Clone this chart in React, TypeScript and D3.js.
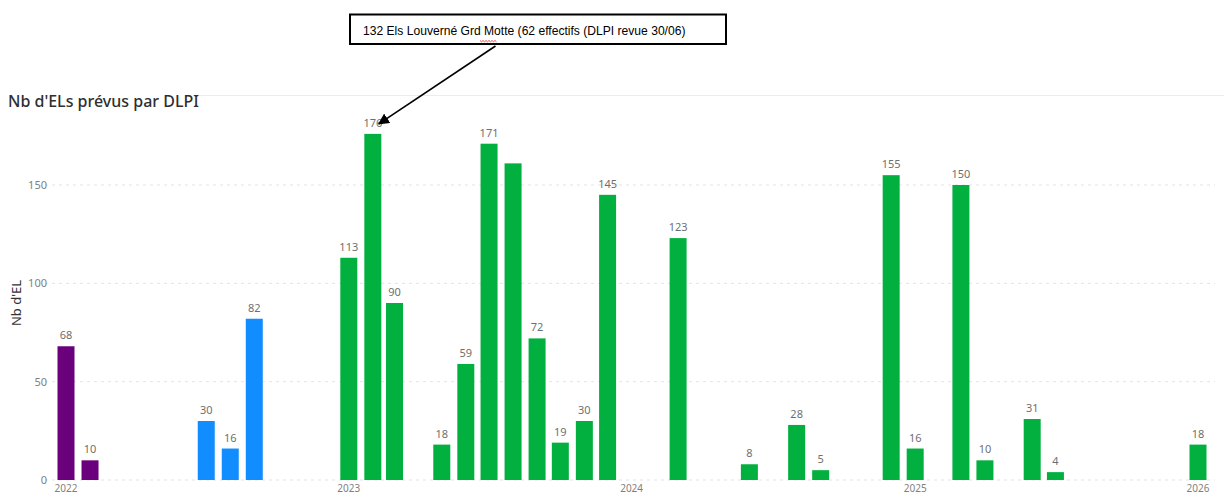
import React from "react";
import * as d3 from "d3";

const months = [
  "2022-01", "2022-02", "2022-07", "2022-08", "2022-09",
  "2023-01", "2023-02", "2023-03", "2023-05", "2023-06", "2023-07", "2023-08",
  "2023-09", "2023-10", "2023-11", "2023-12", "2024-03", "2024-06", "2024-08",
  "2024-09", "2024-12", "2025-01", "2025-03", "2025-04", "2025-06", "2025-07", "2026-01",
];
const values = [
  68, 10, 30, 16, 82,
  113, 176, 90, 18, 59, 171, 161,
  72, 19, 30, 145, 123, 8, 28,
  5, 155, 16, 150, 10, 31, 4, 18,
];
const groups = [
  "P", "P", "B", "B", "B",
  "G", "G", "G", "G", "G", "G", "G",
  "G", "G", "G", "G", "G", "G", "G",
  "G", "G", "G", "G", "G", "G", "G", "G",
];
const hiddenLabels = ["2023-08"];
const yTicks = [0, 50, 100, 150];
const groupColors: Record<string, string> = { P: "#6A007B", B: "#118DFF", G: "#02B03F" };

const title = "Nb d'ELs prévus par DLPI";
const yTitle = "Nb d'EL";
const note = "132 Els Louverné Grd Motte (62 effectifs (DLPI revue 30/06)";

const W = 1224;
const H = 495;

export default function App() {
  const parse = d3.timeParse("%Y-%m");
  const x = d3
    .scaleTime()
    .domain([new Date(2022, 0, 1), new Date(2026, 0, 1)])
    .range([66, 1198]);
  const y = d3.scaleLinear().domain([0, 150]).range([480, 185]);
  const barW = 17;
  const years = x.ticks(d3.timeYear.every(1)!);
  const fmtYear = d3.timeFormat("%Y");

  const target = x(parse("2023-02")!);
  const targetTop = y(176);

  // squiggle under "Grd"
  const sq: string[] = [];
  const sx0 = 480, sx1 = 497, sy = 40.5;
  for (let i = 0, xx = sx0; xx <= sx1; i++, xx += 1.5) {
    sq.push(`${i === 0 ? "M" : "L"}${xx},${sy + (i % 2 === 0 ? 0 : 1.3)}`);
  }

  return (
    <svg width={W} height={H} style={{ position: "absolute", left: 0, top: 0, background: "#fff" }}>
      <defs>
        <marker id="arr" viewBox="0 0 10 10" refX="9" refY="5" markerWidth="7" markerHeight="7" orient="auto-start-reverse">
          <path d="M0,0 L10,5 L0,10 z" fill="#000" />
        </marker>
      </defs>
      <line x1={195} x2={W} y1={95.5} y2={95.5} stroke="#ececec" strokeWidth={1} />
      <text x={8} y={107} fontFamily="Noto Sans, sans-serif" fontSize={16} fontWeight={500} fill="#2f2f2f">
        {title}
      </text>
      {yTicks.map((t) => (
        <g key={t}>
          <line x1={45} x2={1215} y1={y(t)} y2={y(t)} stroke="#e3e3e3" strokeDasharray="3,4" />
          <text x={47} y={y(t) + 4} textAnchor="end" fontFamily="Noto Sans, sans-serif" fontSize={11} fill="#7f7f7f">
            {t}
          </text>
        </g>
      ))}
      <text
        transform={`translate(21,${y(90)}) rotate(-90)`}
        textAnchor="middle"
        fontFamily="Noto Sans, sans-serif"
        fontSize={13}
        fill="#333"
      >
        {yTitle}
      </text>
      {years.map((d) => (
        <text key={+d} x={x(d)} y={492} textAnchor="middle" fontFamily="Noto Sans, sans-serif" fontSize={10} fill="#7f7f7f">
          {fmtYear(d)}
        </text>
      ))}
      {months.map((m, i) => {
        const cx = x(parse(m)!);
        const v = values[i];
        return (
          <g key={m}>
            <rect x={cx - barW / 2} y={y(v)} width={barW} height={y(0) - y(v)} fill={groupColors[groups[i]]} />
            {!hiddenLabels.includes(m) && (
              <text x={cx} y={y(v) - 7} textAnchor="middle" fontFamily="Noto Sans, sans-serif" fontSize={11} fill="#6f6f6f">
                {v}
              </text>
            )}
          </g>
        );
      })}
      <rect x={350} y={14.5} width={376} height={29.5} fill="#fff" stroke="#000" strokeWidth={2} />
      <text x={363} y={35} fontFamily="Liberation Sans, Arial, sans-serif" fontSize={12.1} fill="#000">
        {note}
      </text>
      <path d={sq.join(" ")} fill="none" stroke="#e02020" strokeWidth={0.8} />
      <line x1={495.5} y1={46} x2={target + 6} y2={targetTop - 10} stroke="#000" strokeWidth={1.6} markerEnd="url(#arr)" />
    </svg>
  );
}
